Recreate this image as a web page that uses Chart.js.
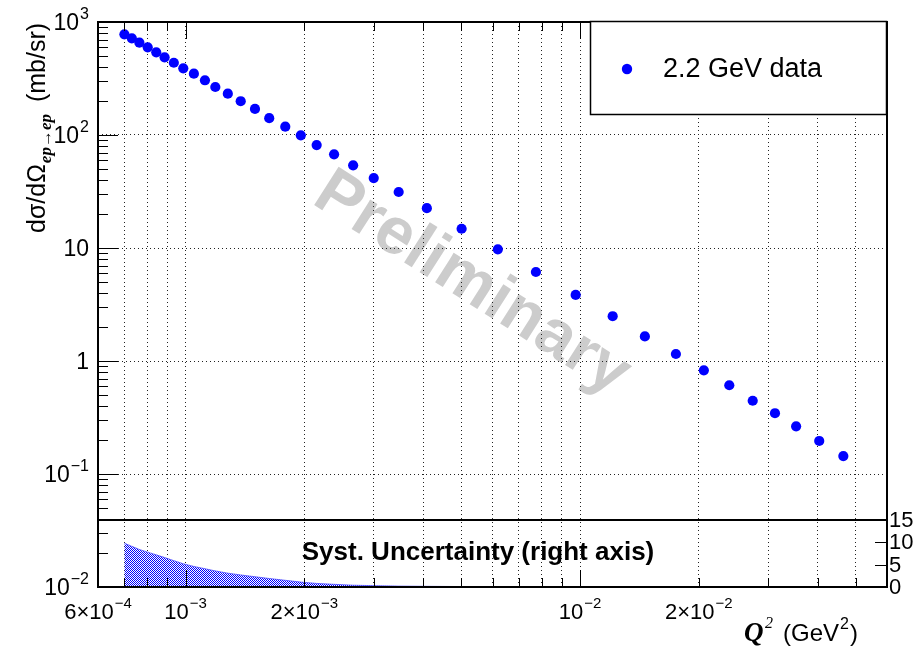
<!DOCTYPE html>
<html>
<head>
<meta charset="utf-8">
<script src="https://cdn.jsdelivr.net/npm/chart.js@4.4.1/dist/chart.umd.min.js"></script>
<style>
html,body{margin:0;padding:0;background:#fff;}
#wrap{width:916px;height:648px;position:relative;}
</style>
</head>
<body>
<div id="wrap"><canvas id="xsChart" width="916" height="648"></canvas></div>
<script>
/* datos */
const qsq=[7.00e-4,7.31e-4,7.64e-4,8.02e-4,8.43e-4,8.85e-4,9.34e-4,9.87e-4,1.05e-3,1.12e-3,1.19e-3,1.28e-3,1.38e-3,1.50e-3,1.63e-3,1.79e-3,1.96e-3,2.15e-3,2.38e-3,2.66e-3,3.00e-3,3.47e-3,4.09e-3,5.01e-3,6.19e-3,7.73e-3,9.75e-3,1.21e-2,1.46e-2,1.75e-2,2.06e-2,2.39e-2,2.74e-2,3.12e-2,3.53e-2,4.04e-2,4.65e-2];
const xsec=[778,717,656,597,539,487,436,389,349,305,266,232,199,170,141,118.4,99.4,81.5,67.5,53.9,41.6,31.3,22.5,14.8,9.74,6.13,3.84,2.49,1.65,1.153,0.827,0.610,0.445,0.345,0.264,0.196,0.144];
const systUnc=[9.8,9.1,8.4,7.8,7.2,6.6,5.9,5.2,4.6,4.1,3.6,3.1,2.7,2.3,1.9,1.5,1.1,0.8,0.6,0.4,0.3,0.2,0.15,0.1,0.1,0.08,0.06,0.05,0.05,0.04,0.04,0.03,0.03,0.03,0.02,0.02,0.02];
const seriesName='2.2 GeV data';
const xGrid=[7e-4,8e-4,9e-4,1e-3,2e-3,3e-3,4e-3,5e-3,6e-3,7e-3,8e-3,9e-3,1e-2,2e-2,3e-2,4e-2,5e-2];
const yGrid=[1e-1,1,10,100];
const xLabels=[[6e-4,'6×10','−4'],[1e-3,'10','−3'],[2e-3,'2×10','−3'],[1e-2,'10','−2'],[2e-2,'2×10','−2']];
const yLabels=[[1e3,'10','3'],[1e2,'10','2'],[10,'10',''],[1,'1',''],[1e-1,'10','−1'],[1e-2,'10','−2']];
const systTicks=[0,5,10,15];

const SANS='"Liberation Sans", Arial, Helvetica, sans-serif';
const SERIF='"Liberation Serif", "Times New Roman", serif';

/* trama azul a cuadros */
function checker(){
  const c=document.createElement('canvas');c.width=2;c.height=2;
  const g=c.getContext('2d');
  g.fillStyle='#fff';g.fillRect(0,0,2,2);
  g.fillStyle='#0000ff';g.fillRect(0,0,1,1);g.fillRect(1,1,1,1);
  return g.createPattern(c,'repeat');
}

function powText(ctx,base,exp,x,y,size,align){
  ctx.font=`${size}px ${SANS}`;
  const wb=ctx.measureText(base).width;
  const es=Math.round(size*0.68);
  ctx.font=`${es}px ${SANS}`;
  const we=exp?ctx.measureText(exp).width+1:0;
  const tot=wb+we;
  let x0=x;
  if(align==='right')x0=x-tot;else if(align==='center')x0=x-tot/2;
  ctx.textAlign='left';ctx.textBaseline='middle';
  ctx.font=`${size}px ${SANS}`;ctx.fillText(base,x0,y);
  if(exp){ctx.font=`${es}px ${SANS}`;ctx.fillText(exp,x0+wb+1,y-size*0.42);}
}

/* marca de agua */
const watermark={
  id:'watermark',
  beforeDraw(c){
    const g=c.ctx;
    g.save();
    g.translate(472,284);g.rotate(32.5*Math.PI/180);
    g.font=`bold 66px ${SANS}`;g.fillStyle='#cccccc';
    g.textAlign='center';g.textBaseline='middle';
    g.fillText('Preliminary',0,0);
    g.restore();
  }
};

/* marco, ticks, etiquetas, leyenda */
const decor={
  id:'decor',
  afterDraw(c){
    const g=c.ctx,{left,right,top,bottom}=c.chartArea;
    const xs=c.scales.x,ys=c.scales.y,y2=c.scales.y2;
    g.save();
    g.strokeStyle='#000';g.fillStyle='#000';g.lineWidth=1;
    // ticks eje y
    for(let d=-2;d<=3;d++){
      for(let m=1;m<=9;m++){
        const v=m*Math.pow(10,d);
        if(v<1e-2||v>1e3)continue;
        const py=Math.round(ys.getPixelForValue(v))+0.5;
        const len=m===1?20:10;
        g.beginPath();g.moveTo(left,py);g.lineTo(left+len,py);g.stroke();
      }
    }
    // ticks eje x (abajo y arriba)
    xGrid.forEach(v=>{
      const px=Math.round(xs.getPixelForValue(v))+0.5;
      const major=(v===1e-3||v===1e-2);
      const len=major?17:9;
      g.beginPath();g.moveTo(px,bottom);g.lineTo(px,bottom-len);g.stroke();
      g.beginPath();g.moveTo(px,top);g.lineTo(px,top+len);g.stroke();
    });
    // ticks eje derecho
    systTicks.forEach(v=>{
      const py=Math.round(y2.getPixelForValue(v))+0.5;
      g.beginPath();g.moveTo(right,py);g.lineTo(right-12,py);g.stroke();
    });
    // marco
    g.lineWidth=2;
    g.strokeRect(left,top,right-left,bottom-top);
    const yi=Math.round(y2.getPixelForValue(15));
    g.beginPath();g.moveTo(left,yi);g.lineTo(right,yi);g.stroke();
    // etiquetas
    yLabels.forEach(([v,b,e])=>powText(g,b,e,89,ys.getPixelForValue(v)+2,23,'right'));
    xLabels.forEach(([v,b,e])=>powText(g,b,e,xs.getPixelForValue(v),613,22,'center'));
    systTicks.forEach(v=>{
      g.font=`22px ${SANS}`;g.textAlign='left';g.textBaseline='middle';
      g.fillText(String(v),889,y2.getPixelForValue(v)+1);
    });
    // texto del recuadro
    g.font=`bold 26px ${SANS}`;g.textAlign='center';g.textBaseline='middle';
    g.fillText('Syst. Uncertainty (right axis)',478,553);
    // título eje x
    g.textAlign='left';g.textBaseline='alphabetic';
    g.font=`bold italic 27px ${SERIF}`;g.fillText('Q',744,641);
    g.font=`italic 16px ${SERIF}`;g.fillText('2',765,628);
    g.font=`24px ${SANS}`;g.fillText('(GeV',783,641);
    let w=g.measureText('(GeV').width;
    g.font=`16px ${SANS}`;g.fillText('2',783+w+1,629);
    let w2=g.measureText('2').width;
    g.font=`24px ${SANS}`;g.fillText(')',783+w+w2+2,641);
    // título eje y
    g.save();
    g.translate(45,233);g.rotate(-Math.PI/2);
    g.font=`25px ${SANS}`;g.fillText('dσ/dΩ',0,0);
    let wy=g.measureText('dσ/dΩ').width;
    g.font=`bold italic 17px ${SERIF}`;g.fillText('ep→ep',wy+1,6);
    let ws=g.measureText('ep→ep').width;
    g.font=`25px ${SANS}`;g.fillText(' (mb/sr)',wy+ws+6,0);
    g.restore();
    // leyenda
    g.fillStyle='#fff';g.fillRect(590,21,297,94);
    g.lineWidth=1.5;g.strokeStyle='#000';g.strokeRect(590.5,21.5,296,93);
    const ds=c.data.datasets[0];
    g.fillStyle=ds.backgroundColor;
    g.beginPath();g.arc(627,69,5.2,0,Math.PI*2);g.fill();
    g.fillStyle='#000';g.font=`27px ${SANS}`;g.textAlign='left';g.textBaseline='middle';
    g.fillText(ds.label,663,70);
    g.restore();
  }
};

const ctx=document.getElementById('xsChart').getContext('2d');
new Chart(ctx,{
  type:'scatter',
  data:{datasets:[
    {label:seriesName,data:qsq.map((q,i)=>({x:q,y:xsec[i]})),backgroundColor:'#0000ff',borderWidth:0,pointRadius:5.1,pointHoverRadius:5.1,yAxisID:'y',order:0},
    {label:'syst',type:'line',data:qsq.map((q,i)=>({x:q,y:systUnc[i]})),yAxisID:'y2',showLine:true,pointRadius:0,borderWidth:1,borderColor:'rgba(60,60,255,0.7)',backgroundColor:checker(),fill:'origin',tension:0,order:1}
  ]},
  options:{
    responsive:false,animation:false,devicePixelRatio:1,
    layout:{padding:{left:98,right:29,top:22,bottom:61}},
    plugins:{legend:{display:false},tooltip:{enabled:false}},
    scales:{
      x:{type:'logarithmic',min:6e-4,max:6e-2,
        afterBuildTicks:s=>{s.ticks=xGrid.map(v=>({value:v}));},
        ticks:{display:false},
        grid:{color:'#222',lineWidth:1,drawTicks:false},
        border:{display:false,dash:[1,3]}},
      y:{type:'logarithmic',min:1e-2,max:1e3,
        afterBuildTicks:s=>{s.ticks=yGrid.map(v=>({value:v}));},
        ticks:{display:false},
        grid:{color:'#222',lineWidth:1,drawTicks:false},
        border:{display:false,dash:[1,3]}},
      y2:{type:'linear',position:'right',display:false,min:0,max:126.5}
    }
  },
  plugins:[watermark,decor]
});
</script>
</body>
</html>
